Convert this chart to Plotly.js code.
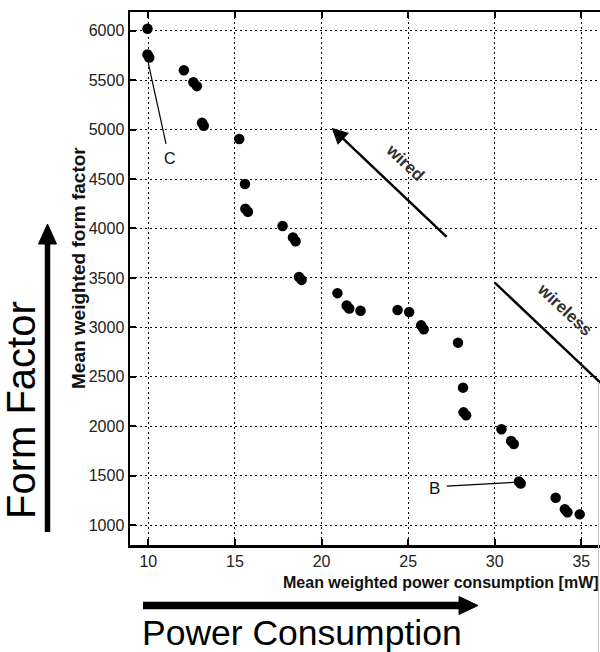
<!DOCTYPE html>
<html>
<head>
<meta charset="utf-8">
<script src="https://cdn.plot.ly/plotly-3.0.1.min.js"></script>
<style>html,body{margin:0;padding:0;background:#fff;overflow:hidden;}</style>
</head>
<body>
<div id="chart" style="width:600px;height:652px;"></div>
<script>
// Data
const powerConsumption = [9.95, 9.95, 10.05, 12.05, 12.6, 12.8, 13.1, 13.2, 15.25, 15.58, 15.6, 15.75, 17.75, 18.35, 18.5, 18.7, 18.85, 20.92, 21.45, 21.6, 22.25, 24.39, 25.06, 25.75, 25.9, 27.88, 28.17, 28.2, 28.35, 30.39, 30.95, 31.1, 31.4, 31.5, 33.52, 34.05, 34.2, 34.91];
const formFactor = [6020, 5760, 5730, 5600, 5480, 5440, 5070, 5040, 4905, 4450, 4200, 4170, 4025, 3910, 3870, 3510, 3480, 3346, 3220, 3190, 3168, 3175, 3154, 3020, 2980, 2845, 2390, 2140, 2110, 1969, 1850, 1820, 1440, 1420, 1276, 1160, 1130, 1108];
const xTicks = [10, 15, 20, 25, 30, 35];
const yTicks = [1000, 1500, 2000, 2500, 3000, 3500, 4000, 4500, 5000, 5500, 6000];

const FONT = 'Arial, "Liberation Sans", sans-serif';
const L = 130, T = 12, W = 470, H = 533;
const px = x => (x - L) / W;          // pixel -> paper x
const py = y => (H + T - y) / H;      // pixel -> paper y

const trace = {
  x: powerConsumption, y: formFactor, type: 'scatter', mode: 'markers',
  marker: {color: '#000', size: 10.5, symbol: 'circle'}, hoverinfo: 'x+y'
};

const axisCommon = {
  showline: true, linecolor: '#000', linewidth: 2.5,
  ticks: 'inside', ticklen: 6, tickwidth: 2, tickcolor: '#000',
  showgrid: true, gridcolor: '#000', gridwidth: 1, griddash: '2px,3px',
  zeroline: false, tickfont: {family: FONT, size: 16, color: '#222'}
};

const shapes = [
  // C leader line
  {type: 'line', xref: 'x', yref: 'y', x0: 10.0, y0: 5671, x1: 11.02, y1: 4855, line: {color: '#000', width: 1.2}},
  // wireless line
  {type: 'line', xref: 'x', yref: 'y', x0: 30.0, y0: 3452, x1: 36.1, y1: 2440, line: {color: '#000', width: 2.5}},
  // B leader line
  {type: 'line', xref: 'x', yref: 'y', x0: 27.23, y0: 1394, x1: 31.1, y1: 1432, line: {color: '#000', width: 1.2}},
  // faint border of the pasted picture
  {type: 'line', xref: 'paper', yref: 'paper', x0: px(598.5), y0: py(382), x1: px(598.5), y1: py(652), line: {color: '#c8c8c8', width: 1}},
  // big horizontal arrow shaft + head
  {type: 'line', xref: 'paper', yref: 'paper', x0: px(143), y0: py(605.5), x1: px(462), y1: py(605.5), line: {color: '#000', width: 7.5}},
  {type: 'path', xref: 'paper', yref: 'paper',
   path: `M ${px(459)},${py(596.5)} L ${px(478)},${py(605.5)} L ${px(459)},${py(614.5)} Z`,
   fillcolor: '#000', line: {color: '#000', width: 1}},
  // big vertical arrow shaft + head
  {type: 'line', xref: 'paper', yref: 'paper', x0: px(47.5), y0: py(532), x1: px(47.5), y1: py(240), line: {color: '#000', width: 5.5}},
  {type: 'path', xref: 'paper', yref: 'paper',
   path: `M ${px(38.5)},${py(244)} L ${px(47.5)},${py(224)} L ${px(56.5)},${py(244)} Z`,
   fillcolor: '#000', line: {color: '#000', width: 1}}
];

const annotations = [
  {xref: 'x', yref: 'y', x: 11.25, y: 4703, text: 'C', showarrow: false, font: {family: FONT, size: 16, color: '#111'}},
  {xref: 'x', yref: 'y', x: 26.54, y: 1374, text: 'B', showarrow: false, font: {family: FONT, size: 17, color: '#111'}},
  {xref: 'x', yref: 'y', axref: 'x', ayref: 'y', x: 20.58, y: 5020, ax: 27.31, ay: 3901, text: '',
   showarrow: true, arrowhead: 2, arrowsize: 1.3, arrowwidth: 2.5, arrowcolor: '#000'},
  {xref: 'x', yref: 'y', x: 24.81, y: 4663, text: '<b>wired</b>', textangle: 43, showarrow: false,
   font: {family: FONT, size: 17, color: '#333'}},
  {xref: 'x', yref: 'y', x: 34.04, y: 3185, text: '<b>wireless</b>', textangle: 43, showarrow: false,
   font: {family: FONT, size: 17, color: '#333'}},
  {xref: 'paper', yref: 'paper', x: px(281), y: py(582), xanchor: 'left', yanchor: 'middle',
   text: '<b>Mean weighted power consumption [mW]</b>', showarrow: false,
   font: {family: FONT, size: 16, color: '#111'}},
  {xref: 'paper', yref: 'paper', x: px(78), y: py(268), xanchor: 'center', yanchor: 'middle',
   text: '<b>Mean weighted form factor</b>', textangle: -90, showarrow: false,
   font: {family: FONT, size: 19, color: '#111'}},
  {xref: 'paper', yref: 'paper', x: px(21), y: py(410), xanchor: 'center', yanchor: 'middle',
   text: 'Form Factor', textangle: -90, showarrow: false,
   font: {family: FONT, size: 40, color: '#000'}},
  {xref: 'paper', yref: 'paper', x: px(302), y: py(633), xanchor: 'center', yanchor: 'middle',
   text: 'Power Consumption', showarrow: false,
   font: {family: FONT, size: 35.5, color: '#000'}}
];

const layout = {
  width: 600, height: 652,
  margin: {l: L, r: 0, t: T, b: 652 - T - H, pad: 0},
  paper_bgcolor: '#fff', plot_bgcolor: '#fff',
  showlegend: false,
  xaxis: Object.assign({}, axisCommon, {
    range: [8.94, 36.08], tickvals: xTicks, ticktext: xTicks.map(String), mirror: 'ticks'
  }),
  yaxis: Object.assign({}, axisCommon, {
    range: [798, 6190], tickvals: yTicks, ticktext: yTicks.map(String), mirror: false
  }),
  shapes: shapes, annotations: annotations
};

Plotly.newPlot('chart', [trace], layout, {displayModeBar: false, staticPlot: true});
</script>
</body>
</html>
